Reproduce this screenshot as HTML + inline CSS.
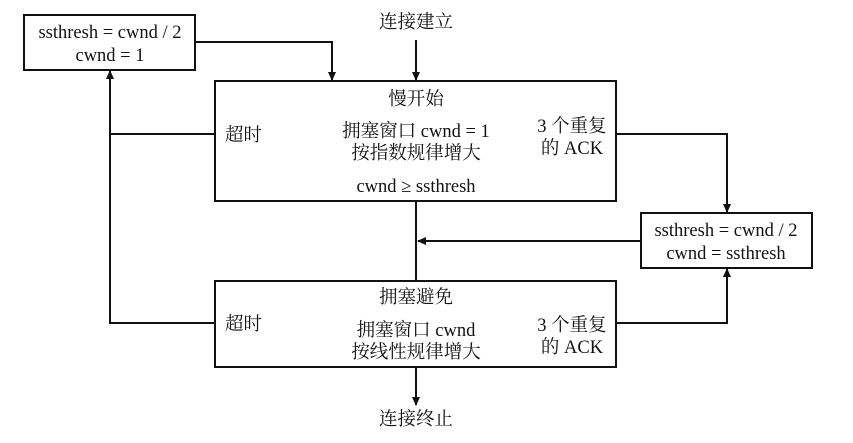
<!DOCTYPE html>
<html><head><meta charset="utf-8"><style>
html,body{margin:0;padding:0;background:#fff;}
svg{display:block;}
text{font-family:"Liberation Serif","Noto Serif CJK SC",serif;font-size:18.5px;fill:#111;}
</style></head><body>
<svg width="853" height="443" viewBox="0 0 853 443" xmlns="http://www.w3.org/2000/svg">
<defs><marker id="a" markerWidth="9" markerHeight="14" refX="8" refY="7" orient="auto" markerUnits="userSpaceOnUse"><path d="M0,3 L9,7 L0,11 Z" fill="#111"/></marker></defs>
<g stroke="#111" stroke-width="2" fill="none">
<rect x="24" y="15" width="171" height="55"/>
<rect x="215" y="81" width="401" height="120"/>
<rect x="641" y="213" width="171" height="55"/>
<rect x="215" y="281" width="401" height="86"/>
<polyline points="195,42 332,42 332,80" marker-end="url(#a)"/>
<line x1="416" y1="40" x2="416" y2="80" marker-end="url(#a)"/>
<polyline points="215,134 110,134"/>
<polyline points="215,323 110,323 110,71" marker-end="url(#a)"/>
<line x1="416" y1="201" x2="416" y2="281"/>
<line x1="641" y1="241" x2="418" y2="241" marker-end="url(#a)"/>
<polyline points="616,134 727,134 727,212" marker-end="url(#a)"/>
<polyline points="616,323 727,323 727,269" marker-end="url(#a)"/>
<line x1="416" y1="367" x2="416" y2="405" marker-end="url(#a)"/>
</g>
<g text-anchor="middle">
<text x="110" y="38">ssthresh = cwnd / 2</text>
<text x="110" y="61">cwnd = 1</text>
<text x="416" y="28">连接建立</text>
<text x="416" y="105">慢开始</text>
<text x="416" y="137">拥塞窗口 cwnd = 1</text>
<text x="416" y="159">按指数规律增大</text>
<text x="416" y="192">cwnd ≥ ssthresh</text>
<text x="726" y="236">ssthresh = cwnd / 2</text>
<text x="726" y="259">cwnd = ssthresh</text>
<text x="416" y="303">拥塞避免</text>
<text x="416" y="336">拥塞窗口 cwnd</text>
<text x="416" y="358">按线性规律增大</text>
<text x="416" y="425">连接终止</text>
<text x="572" y="132">3 个重复</text>
<text x="572" y="154">的 ACK</text>
<text x="572" y="331">3 个重复</text>
<text x="572" y="353">的 ACK</text>
</g>
<text x="225" y="141">超时</text>
<text x="225" y="330">超时</text>
</svg>
</body></html>
